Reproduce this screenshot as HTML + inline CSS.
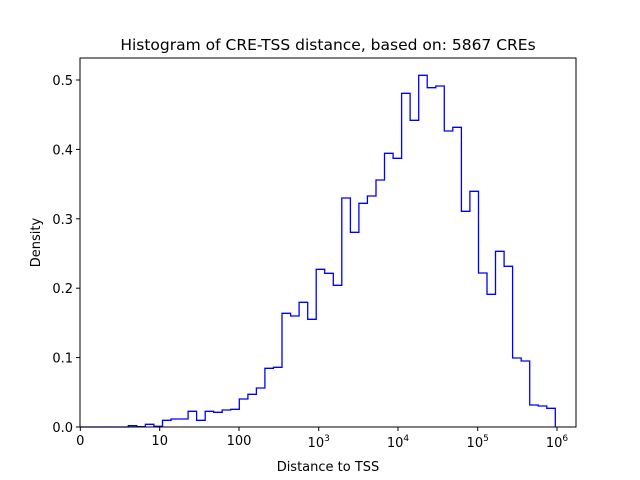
<!DOCTYPE html>
<html><head><meta charset="utf-8"><style>
html,body{margin:0;padding:0;background:#fff;}
svg{display:block;font-family:"DejaVu Sans","Liberation Sans",sans-serif;}
</style></head><body>
<svg width="640" height="480" viewBox="0 0 640 480" xmlns="http://www.w3.org/2000/svg">
<rect width="640" height="480" fill="#fff"/>
<polyline fill="none" stroke="#0000ff" stroke-width="1.3" stroke-linejoin="miter" points="
80,427 128.3,427
128.3,425.7 136.8,425.7 136.8,426.7 145.4,426.7 145.4,424.3 153.9,424.3 153.9,426.3 162.5,426.3
162.5,420.3 171,420.3 171,419 179.5,419 179.5,419 188.1,419 188.1,411.3 196.6,411.3 196.6,420.3 205.2,420.3
205.2,411.3 213.7,411.3 213.7,412.3 222.2,412.3 222.2,410 230.8,410 230.8,409.3 239.3,409.3
239.3,399 247.9,399 247.9,394.3 256.4,394.3 256.4,388 264.9,388 264.9,368.3 273.5,368.3 273.5,367.3 282,367.3
282,313.3 290.6,313.3 290.6,316 299.1,316 299.1,302.3 307.7,302.3 307.7,319.3 316.2,319.3
316.2,269.3 324.7,269.3 324.7,273.3 333.3,273.3 333.3,285.3 341.8,285.3 341.8,198 350.4,198 350.4,232.3 358.9,232.3
358.9,203.3 367.4,203.3 367.4,196 376,196 376,180 384.5,180 384.5,153.3 393.1,153.3 393.1,158.3 401.6,158.3
401.6,93.3 410.1,93.3 410.1,120.3 418.7,120.3 418.7,75.3 427.2,75.3 427.2,87.7 435.8,87.7 435.8,86 444.3,86
444.3,131 452.8,131 452.8,127.3 461.4,127.3 461.4,211.3 469.9,211.3 469.9,191.3 478.5,191.3 478.5,273 487,273
487,294.3 495.5,294.3 495.5,251.3 504.1,251.3 504.1,266.3 512.6,266.3 512.6,358 521.2,358 521.2,361 529.7,361
529.7,405 538.2,405 538.2,406 546.8,406 546.8,408.3 555.3,408.3 555.3,427"/>
<rect x="80" y="58" width="496" height="369" fill="none" stroke="#000" stroke-width="1"/>
<g stroke="#000" stroke-width="1">
<line x1="80.3" y1="427" x2="80.3" y2="431"/>
<line x1="159.7" y1="427" x2="159.7" y2="431"/>
<line x1="239" y1="427" x2="239" y2="431"/>
<line x1="318.7" y1="427" x2="318.7" y2="431"/>
<line x1="398" y1="427" x2="398" y2="431"/>
<line x1="477.7" y1="427" x2="477.7" y2="431"/>
<line x1="557" y1="427" x2="557" y2="431"/>
<line x1="76" y1="427" x2="80" y2="427"/>
<line x1="76" y1="357.6" x2="80" y2="357.6"/>
<line x1="76" y1="288.2" x2="80" y2="288.2"/>
<line x1="76" y1="218.8" x2="80" y2="218.8"/>
<line x1="76" y1="149.4" x2="80" y2="149.4"/>
<line x1="76" y1="80" x2="80" y2="80"/>
</g>
<g font-size="13" fill="#000" text-anchor="middle">
<text x="80.3" y="445">0</text>
<text x="159.7" y="445">10</text>
<text x="239" y="445">100</text>
<text x="318.7" y="447">10<tspan font-size="9" dy="-6">3</tspan></text>
<text x="398" y="447">10<tspan font-size="9" dy="-6">4</tspan></text>
<text x="477.7" y="447">10<tspan font-size="9" dy="-6">5</tspan></text>
<text x="557" y="447">10<tspan font-size="9" dy="-6">6</tspan></text>
</g>
<g font-size="13" fill="#000" text-anchor="end">
<text x="73" y="432">0.0</text>
<text x="73" y="362.6">0.1</text>
<text x="73" y="293.2">0.2</text>
<text x="73" y="223.8">0.3</text>
<text x="73" y="154.4">0.4</text>
<text x="73" y="85">0.5</text>
</g>
<text x="328" y="471" font-size="13" text-anchor="middle">Distance to TSS</text>
<text x="40" y="242.5" font-size="13" text-anchor="middle" transform="rotate(-90 40 242.5)">Density</text>
<text x="328" y="50" font-size="15.5" text-anchor="middle">Histogram of CRE-TSS distance, based on: 5867 CREs</text>
</svg>
</body></html>
